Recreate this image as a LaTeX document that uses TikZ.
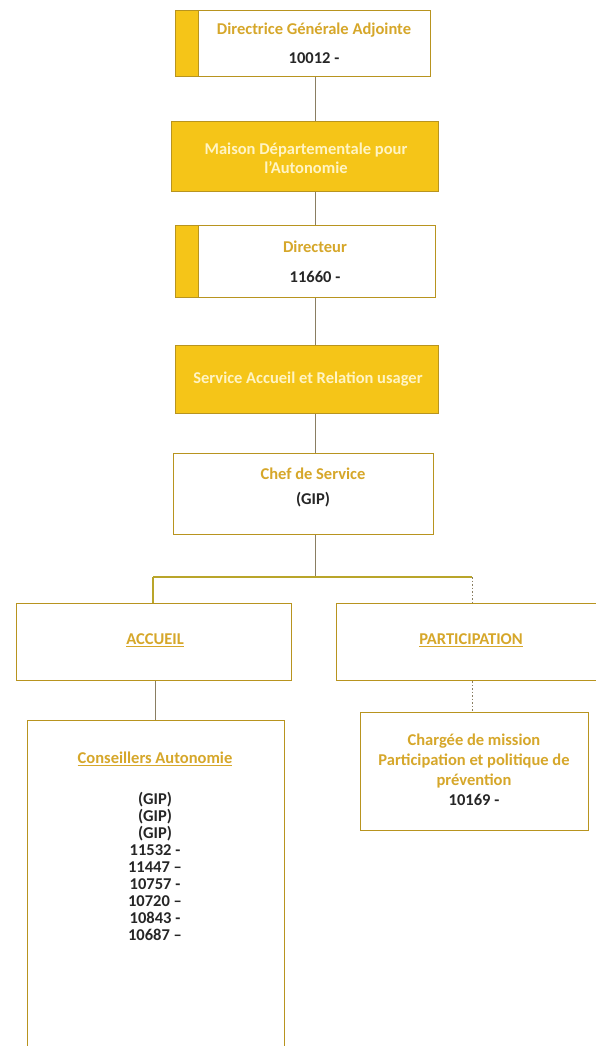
\documentclass[tikz,border=0pt]{standalone}
\usepackage{fontspec}
\setmainfont{Carlito}
\definecolor{gold}{HTML}{F5C518}
\definecolor{goldtext}{HTML}{D6A72A}
\definecolor{goldline}{HTML}{B8941F}
\definecolor{paletext}{HTML}{FFF4C4}
\definecolor{linkgray}{HTML}{8A7E62}
\definecolor{bracket}{HTML}{B9A52A}
\begin{document}
\begin{tikzpicture}[x=1pt,y=-1pt,
  box/.style={draw=goldline, line width=1pt, fill=white, inner sep=0pt, anchor=north west},
  fullbox/.style={box, fill=gold},
  stripe/.style={draw=goldline, line width=1pt, fill=gold, inner sep=0pt, anchor=north west},
  txt/.style={font=\bfseries\fontsize{16.5}{17}\selectfont, align=center, inner sep=0pt},
  title/.style={txt, text=goldtext},
  whitetitle/.style={txt, text=paletext},
  num/.style={txt, text=black!85},
  link/.style={draw=linkgray, line width=0.8pt},
  brk/.style={draw=bracket, line width=1.1pt},
  dotlink/.style={draw=linkgray, line width=0.8pt, dash pattern=on 1.5pt off 2pt}
]
\fill[white] (0,0) rectangle (596,1046);
\useasboundingbox (0,0) rectangle (596,1046);

% spine of the vertical chain
\coordinate (spine) at (315,0);

% Directrice Generale Adjointe
\node[box, minimum width=255pt, minimum height=66pt] (dga) at (175,10) {};
\node[stripe, minimum width=23pt, minimum height=66pt] (dgas) at (175,10) {};
\node[title] (dgat) at (314,30) {Directrice Générale Adjointe};
\node[num] (dgan) at (314,58) {10012 -};

% Maison Departementale pour l'Autonomie
\node[fullbox, minimum width=267pt, minimum height=70pt] (mda) at (171,121) {};
\node[whitetitle, font=\bfseries\fontsize{16.5}{19}\selectfont] (mdat) at (306,158) {Maison Départementale pour\\l'Autonomie};

% Directeur
\node[box, minimum width=260pt, minimum height=72pt] (dir) at (175,225) {};
\node[stripe, minimum width=23pt, minimum height=72pt] (dirs) at (175,225) {};
\node[title] (dirt) at (315,247) {Directeur};
\node[num] (dirn) at (315,277) {11660 -};

% Service Accueil et Relation usager
\node[fullbox, minimum width=263pt, minimum height=68pt] (sar) at (175,345) {};
\node[whitetitle] (sart) at (308,379) {Service Accueil et Relation usager};

% Chef de Service
\node[box, minimum width=260pt, minimum height=81pt] (chef) at (173,453) {};
\node[title] (cheft) at (313,474) {Chef de Service};
\node[num] (chefn) at (313,500) {(GIP)};

% ACCUEIL and PARTICIPATION
\node[box, minimum width=275pt, minimum height=77pt] (acc) at (16,603) {};
\node[title] (acct) at (155,640) {\underline{ACCUEIL}};
\node[box, minimum width=264pt, minimum height=77pt] (par) at (336,603) {};
\node[title] (part) at (471,640) {\underline{PARTICIPATION}};

% Conseillers Autonomie
\node[box, minimum width=257pt, minimum height=340pt] (cons) at (27,720) {};
\node[title] (const) at (155,759) {\underline{Conseillers Autonomie}};
\node[num] (consn) at (155,866.5)
  {(GIP)\\(GIP)\\(GIP)\\11532 -\\11447 --\\10757 -\\10720 --\\10843 -\\10687 --};

% Chargee de mission
\node[box, minimum width=228pt, minimum height=118pt] (cdm) at (360,712) {};
\node[title, font=\bfseries\fontsize{16.5}{20}\selectfont] (cdmt) at (474,761)
  {Chargée de mission\\Participation et politique de\\prévention};
\node[num] (cdmn) at (474,800) {10169 -};

% links along the spine
\draw[link] (dga.south -| spine) -- (mda.north -| spine);
\draw[link] (mda.south -| spine) -- (dir.north -| spine);
\draw[link] (dir.south -| spine) -- (sar.north -| spine);
\draw[link] (sar.south -| spine) -- (chef.north -| spine);

% fork below the chief
\coordinate (fork) at (315,577);
\coordinate (forkL) at (153,577);
\coordinate (forkR) at (472,577);
\draw[link] (chef.south -| spine) -- (fork);
\draw[brk] (forkL) -- (forkR);
\draw[brk] (forkL) -- (acc.north -| forkL);
\draw[dotlink] (forkR) -- (par.north -| forkR);

% lower links
\coordinate (accx) at (155,0);
\draw[link] (acc.south -| accx) -- (cons.north -| accx);
\draw[dotlink] (par.south -| forkR) -- (cdm.north -| forkR);
\end{tikzpicture}
\end{document}
